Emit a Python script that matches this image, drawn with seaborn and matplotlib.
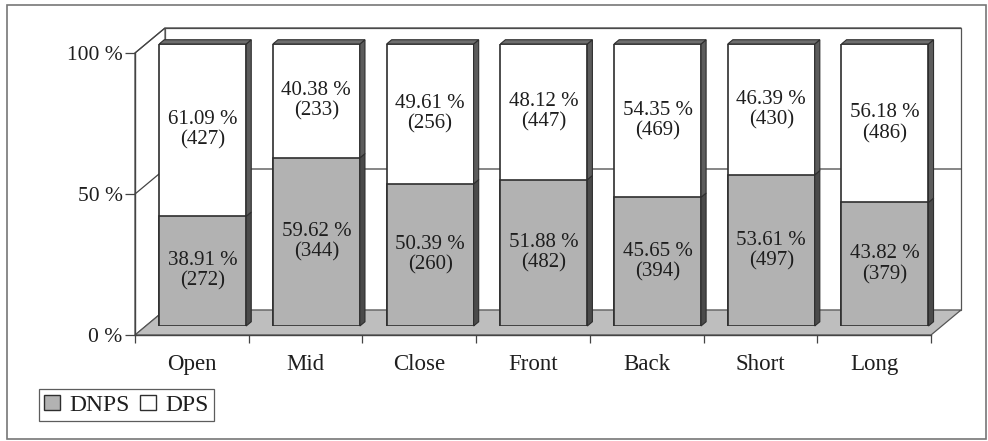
import matplotlib
matplotlib.use("Agg")
import matplotlib.pyplot as plt
from matplotlib.patches import Polygon, Rectangle, Patch
from matplotlib.ticker import FixedLocator
import seaborn as sns
import pandas as pd

# ---- data -------------------------------------------------------------
categories = ["Open", "Mid", "Close", "Front", "Back", "Short", "Long"]
dnps_pct = [38.91, 59.62, 50.39, 51.88, 45.65, 53.61, 43.82]
dps_pct = [61.09, 40.38, 49.61, 48.12, 54.35, 46.39, 56.18]
dnps_n = [272, 344, 260, 482, 394, 497, 379]
dps_n = [427, 233, 256, 447, 469, 430, 486]
series_names = ["DNPS", "DPS"]
y_ticks = [0, 50, 100]
y_tick_labels = ["0 %", "50 %", "100 %"]

# ---- style ------------------------------------------------------------
sns.set_theme(style="white")
plt.rcParams["font.family"] = ["Liberation Serif", "DejaVu Serif"]
INK = "#1e1e1e"
EDGE = "#2e2e2e"
GRAY = "#b2b2b2"
FLOOR = "#bebebe"
SIDE_DARK = "#4a4a4a"
SIDE_LIGHT = "#5c5c5c"
TOP = "#6e6e6e"

W, H = 988, 441
fig = plt.figure(figsize=(W / 100, H / 100), dpi=100)


def frac(x0, y_top, w, h):
    """Pixel box measured from the top-left corner -> figure fraction."""
    return [x0 / W, (H - y_top - h) / H, w / W, h / H]


# front plane of the 3-D box
PX0, PY0, PW, PH = 135, 53, 796, 282
n = len(categories)
DEPTH_PX = (30, 25)                     # oblique depth of the box
cat_px = PW / n
pct_px = PH / 100.0
ddx = DEPTH_PX[0] / cat_px
ddy = DEPTH_PX[1] / pct_px
BAR_DEPTH = 0.36                        # where the bars stand inside the box
BAR_THICK = 0.17                        # depth of each bar
BW = 0.765                              # bar width in category units

ax = fig.add_axes(frac(PX0, PY0, PW, PH))
ax.set_xlim(-0.5, n - 0.5)
ax.set_ylim(0, 100)
ax.patch.set_visible(False)

# walls and floor
x_l, x_r = -0.5, n - 0.5
ax.add_patch(Rectangle((x_l + ddx, ddy), n, 100, fc="white", ec="#555555",
                       lw=0.9, clip_on=False, zorder=0))
ax.add_patch(Polygon([(x_l, 0), (x_l, 100), (x_l + ddx, 100 + ddy), (x_l + ddx, ddy)],
                     closed=True, fc="white", ec="#555555", lw=0.9,
                     clip_on=False, zorder=0.5))
ax.add_patch(Polygon([(x_l, 0), (x_r, 0), (x_r + ddx, ddy), (x_l + ddx, ddy)],
                     closed=True, fc=FLOOR, ec="#555555", lw=0.9,
                     clip_on=False, zorder=1))
for t in y_ticks[1:]:
    ax.plot([x_l, x_l + ddx, x_r + ddx], [t, t + ddy, t + ddy], color="#444444",
            lw=0.9, clip_on=False, zorder=1.2)

for side in ("top", "right"):
    ax.spines[side].set_visible(False)
for side in ("left", "bottom"):
    ax.spines[side].set_color("#444444")
    ax.spines[side].set_linewidth(1.0)
    ax.spines[side].set_zorder(3)

ax.yaxis.set_major_locator(FixedLocator(y_ticks))
ax.set_yticklabels(y_tick_labels)
ax.xaxis.set_major_locator(FixedLocator(list(range(n))))
ax.set_xticklabels(categories)
ax.xaxis.set_minor_locator(FixedLocator([i - 0.5 for i in range(n + 1)]))
ax.tick_params(axis="y", which="major", direction="out", length=7, width=0.9,
               color="#444444", pad=2, labelsize=15.5, labelcolor=INK, left=True)
ax.tick_params(axis="x", which="major", length=0, pad=14, labelsize=16.5,
               labelcolor=INK, bottom=True)
ax.tick_params(axis="x", which="minor", direction="out", length=6, width=0.9,
               color="#444444", bottom=True)
ax.set_xlabel("")
ax.set_ylabel("")

# bars stand in a plane shifted into the box
bx = BAR_DEPTH * DEPTH_PX[0]
by = BAR_DEPTH * DEPTH_PX[1]
axb = fig.add_axes(frac(PX0 + bx, PY0 - by, PW, PH))
axb.patch.set_visible(False)

df = pd.DataFrame({"category": categories, "DNPS": dnps_pct, "DPS": dps_pct})
df["total"] = df["DNPS"] + df["DPS"]

sns.barplot(data=df, x="category", y="total", color="white", saturation=1,
            width=BW, edgecolor=EDGE, linewidth=1.2, errorbar=None, ax=axb)
sns.barplot(data=df, x="category", y="DNPS", color=GRAY, saturation=1,
            width=BW, edgecolor=EDGE, linewidth=1.2, errorbar=None, ax=axb)
axb.set_xlim(-0.5, n - 0.5)
axb.set_ylim(0, 100)
axb.axis("off")

tx = BAR_THICK * ddx
ty = BAR_THICK * ddy
for i in range(n):
    lo, hi = dnps_pct[i], dnps_pct[i] + dps_pct[i]
    xr = i + BW / 2
    xl = i - BW / 2
    # right-hand faces of both segments
    axb.add_patch(Polygon([(xr, 0), (xr, lo), (xr + tx, lo + ty), (xr + tx, ty)],
                          closed=True, fc=SIDE_DARK, ec=EDGE, lw=0.8, clip_on=False))
    axb.add_patch(Polygon([(xr, lo), (xr, hi), (xr + tx, hi + ty), (xr + tx, lo + ty)],
                          closed=True, fc=SIDE_LIGHT, ec=EDGE, lw=0.8, clip_on=False))
    # top face
    axb.add_patch(Polygon([(xl, hi), (xr, hi), (xr + tx, hi + ty), (xl + tx, hi + ty)],
                          closed=True, fc=TOP, ec=EDGE, lw=0.8, clip_on=False))
    # value labels
    axb.text(i, lo / 2, f"{dnps_pct[i]:.2f} %\n({dnps_n[i]})", ha="center",
             va="center", fontsize=15, color=INK, linespacing=1.1)
    axb.text(i, lo + dps_pct[i] / 2, f"{dps_pct[i]:.2f} %\n({dps_n[i]})",
             ha="center", va="center", fontsize=15, color=INK, linespacing=1.1)

# legend
handles = [Patch(fc=GRAY, ec=EDGE, lw=1.0), Patch(fc="white", ec=EDGE, lw=1.0)]
leg = fig.legend(handles, series_names, loc="lower left",
                 bbox_to_anchor=(39 / W, (H - 421) / H), ncol=2, frameon=True,
                 fancybox=False, shadow=False, fontsize=17, handlelength=0.65,
                 handleheight=0.65, handletextpad=0.42, columnspacing=0.45,
                 borderpad=0.22, borderaxespad=0)
leg.get_frame().set_edgecolor("#333333")
leg.get_frame().set_linewidth(0.9)
for t in leg.get_texts():
    t.set_color(INK)

# outer chart frame
fig.patches.append(Rectangle((7 / W, 2 / H), 979 / W, 434 / H, transform=fig.transFigure,
                             fill=False, ec="#777777", lw=1.2))

fig.savefig("out.png", dpi=100)
